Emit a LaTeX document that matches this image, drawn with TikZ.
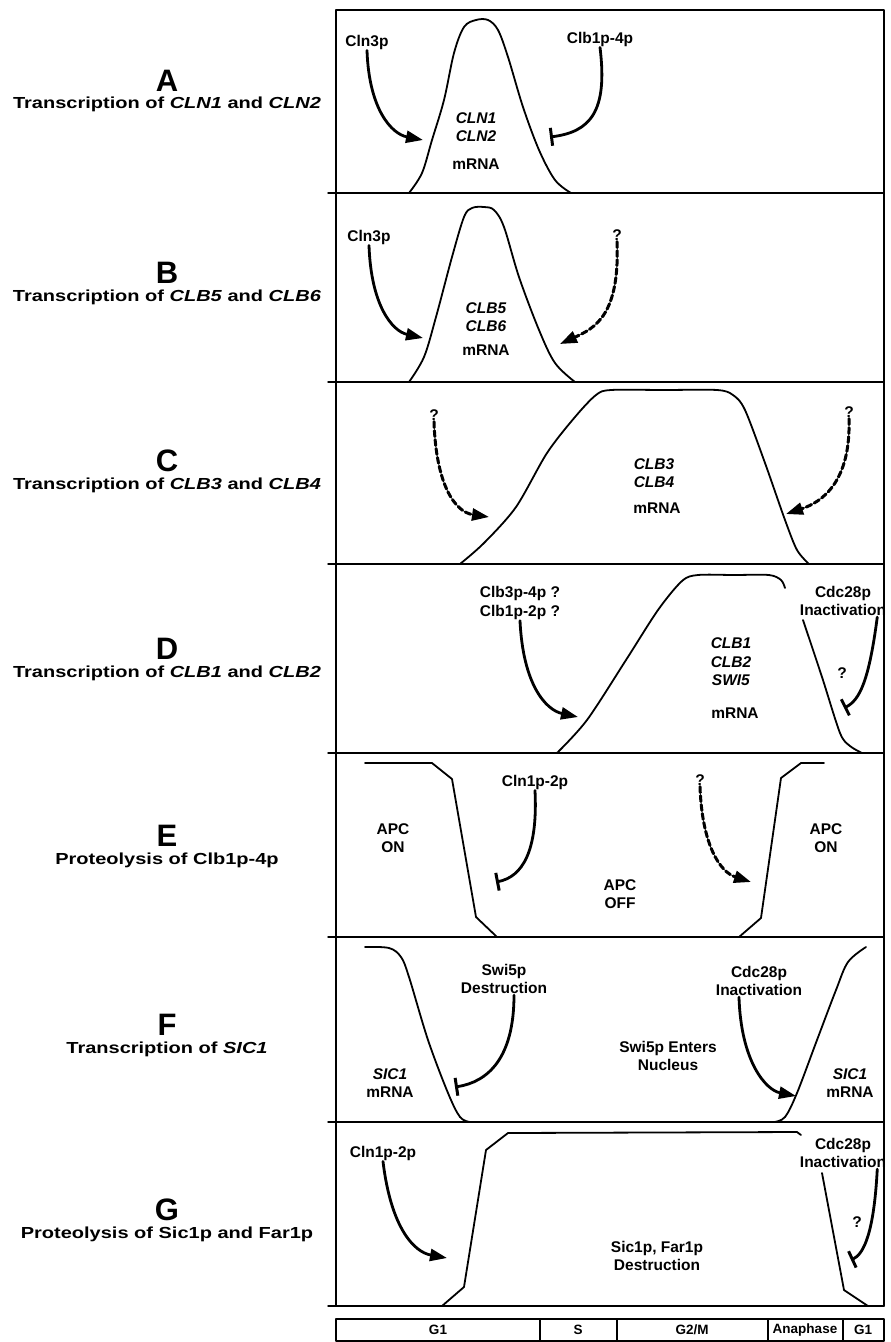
\documentclass[tikz,border=0pt]{standalone}
\usepackage{fontspec}
\setmainfont{Liberation Sans}
\newfontfamily\widefont[FakeStretch=1.25]{Liberation Sans}
\usetikzlibrary{arrows.meta}
\tikzset{lbl/.style={font=\bfseries\fontsize{15.5}{18.5}\selectfont,align=center,inner sep=1pt}}
\tikzset{panel letter/.style={font=\bfseries\fontsize{31}{31}\selectfont,inner sep=0pt}}
\tikzset{panel title/.style={font=\widefont\bfseries\fontsize{16}{19}\selectfont,inner sep=0pt}}
\tikzset{phase/.style={font=\bfseries\fontsize{13.5}{15}\selectfont,inner sep=0pt}}
\tikzset{frame/.style={line width=1.4pt}}
\tikzset{level/.style={line width=1.8pt}}
\tikzset{act/.style={line width=2.8pt,-{Triangle[length=17pt,width=12pt]}}}
\tikzset{inh/.style={line width=2.8pt,-{Bar[width=18pt,line width=3pt]}}}
\tikzset{unknown/.style={act,line width=3pt,dash pattern=on 6pt off 3pt}}
\begin{document}
\begin{tikzpicture}[x=1pt,y=-1pt,line join=round,line cap=round]
\useasboundingbox (0,0) rectangle (891,1342);

\draw[frame] (336,10) rectangle (884,1306);
\foreach \y in {193,382,564,753,937,1122,1306} \draw[frame] (328,\y) -- (884,\y);

\node[panel letter] (letA) at (167,81) {A};
\node[panel title] (titA) at (167,104) {Transcription of \textit{CLN1} and \textit{CLN2}};
\node[panel letter] (letB) at (167,273) {B};
\node[panel title] (titB) at (167,297) {Transcription of \textit{CLB5} and \textit{CLB6}};
\node[panel letter] (letC) at (167,461) {C};
\node[panel title] (titC) at (167,485) {Transcription of \textit{CLB3} and \textit{CLB4}};
\node[panel letter] (letD) at (167,649) {D};
\node[panel title] (titD) at (167,673) {Transcription of \textit{CLB1} and \textit{CLB2}};
\node[panel letter] (letE) at (167,836) {E};
\node[panel title] (titE) at (167,860) {Proteolysis of Clb1p-4p};
\node[panel letter] (letF) at (167,1025) {F};
\node[panel title] (titF) at (167,1049) {Transcription of \textit{SIC1}};
\node[panel letter] (letG) at (167,1210) {G};
\node[panel title] (titG) at (167,1234) {Proteolysis of Sic1p and Far1p};

% A
\draw[level] plot[smooth,tension=0.55] coordinates {(409,193) (422,173) (432,140) (444,100) (454,53) (464,27) (476,20) (488,20) (498,30) (508,57) (523,107) (539,150) (555,180) (571,193)};
\node[lbl] (geneA) at (476,127) {\textit{CLN1}\\\textit{CLN2}};
\node[lbl] (mrnaA) at (476,164) {mRNA};
\node[lbl] (cln3A) at (367,42) {Cln3p};
\node[lbl] (clbA) at (600,39) {Clb1p-4p};
\coordinate (tipA1) at (423,140);
\coordinate (tipA2) at (550,137);
\draw[act] (cln3A.south) .. controls (369,110) and (392,134) .. (tipA1);
\draw[inh] (clbA.south) .. controls (608,112) and (590,132) .. (tipA2);

% B
\draw[level] plot[smooth,tension=0.55] coordinates {(409,382) (424,357) (436,317) (452,257) (464,217) (472,208) (484,207) (494,210) (504,227) (519,277) (539,330) (555,363) (575,382)};
\node[lbl] (geneB) at (486,317) {\textit{CLB5}\\\textit{CLB6}};
\node[lbl] (mrnaB) at (486,350) {mRNA};
\node[lbl] (cln3B) at (369,237) {Cln3p};
\node[lbl] (qB) at (617,235) {?};
\coordinate (tipB1) at (423,338);
\coordinate (tipB2) at (560,344);
\draw[act] (cln3B.south) .. controls (371,305) and (392,331) .. (tipB1);
\draw[unknown] (qB.south) .. controls (620,315) and (595,328) .. (tipB2);

% C
\draw[level] plot[smooth,tension=0.5] coordinates {(460,564) (484,543) (516,507) (547,453) (575,417) (596,395) (611,390) (664,390) (717,390) (733,395) (745,410) (765,463) (785,520) (797,550) (809,564)};
\node[lbl] (geneC) at (654,473) {\textit{CLB3}\\\textit{CLB4}};
\node[lbl] (mrnaC) at (657,508) {mRNA};
\node[lbl] (qC1) at (434,415) {?};
\node[lbl] (qC2) at (849,412) {?};
\coordinate (tipC1) at (489,517);
\coordinate (tipC2) at (786,514);
\draw[unknown] (qC1.south) .. controls (436,485) and (455,512) .. (tipC1);
\draw[unknown] (qC2.south) .. controls (851,482) and (822,502) .. (tipC2);

% D
\draw[level] plot[smooth,tension=0.5] coordinates {(557,753) (587,720) (626,660) (658,610) (682,581) (698,575) (734,575) (769,575) (781,580) (785,588)};
\draw[level] plot[smooth,tension=0.5] coordinates {(803,620) (822,677) (840,733) (850,746) (862,753)};
\node[lbl] (clbD) at (520,603) {Clb3p-4p ?\\Clb1p-2p ?};
\node[lbl] (geneD) at (731,662) {\textit{CLB1}\\\textit{CLB2}\\\textit{SWI5}};
\node[lbl] (mrnaD) at (735,713) {mRNA};
\node[lbl] (cdcD) at (843,601) {Cdc28p\\Inactivation};
\node[lbl] (qD) at (842,673) {?};
\coordinate (tipD1) at (578,717);
\coordinate (tipD2) at (844,708);
\draw[act] (clbD.south) .. controls (523,685) and (546,710) .. (tipD1);
\draw[inh] ([xshift=-10pt]cdcD.south east) .. controls (869,680) and (860,700) .. (tipD2);

% E
\draw[level] (365,763) -- (432,763) -- (452,779) -- (476,917) -- (497,937);
\draw[level] (739,937) -- (761,918) -- (781,778) -- (801,763) -- (824,763);
\node[lbl] (apcE1) at (393,838) {APC\\ON};
\node[lbl] (apcE2) at (620,894) {APC\\OFF};
\node[lbl] (apcE3) at (826,838) {APC\\ON};
\node[lbl] (clnE) at (535,782) {Cln1p-2p};
\node[lbl] (qE) at (700,780) {?};
\coordinate (tipE1) at (496,882);
\coordinate (tipE2) at (751,882);
\draw[inh] (clnE.south) .. controls (538,852) and (522,877) .. (tipE1);
\draw[unknown] (qE.south) .. controls (702,845) and (720,872) .. (tipE2);

% F
\draw[level] plot[smooth,tension=0.55] coordinates {(365,947) (389,948) (401,957) (409,977) (428,1040) (448,1093) (460,1117) (470,1122)};
\draw[level] plot[smooth,tension=0.55] coordinates {(774,1122) (785,1117) (797,1093) (817,1040) (836,990) (848,962) (866,947)};
\node[lbl] (sicF1) at (390,1083) {\textit{SIC1}\\mRNA};
\node[lbl] (sicF2) at (850,1083) {\textit{SIC1}\\mRNA};
\node[lbl] (swiF) at (504,979) {Swi5p\\Destruction};
\node[lbl] (cdcF) at (759,981) {Cdc28p\\Inactivation};
\node[lbl] (nucF) at (668,1056) {Swi5p Enters\\Nucleus};
\coordinate (tipF1) at (455,1087);
\coordinate (tipF2) at (796,1096);
\draw[inh] ([xshift=10pt]swiF.south) .. controls (514,1058) and (488,1082) .. (tipF1);
\draw[act] ([xshift=-20pt]cdcF.south) .. controls (741,1062) and (766,1090) .. (tipF2);

% G
\draw[level] (442,1306) -- (464,1287) -- (486,1150) -- (508,1133) -- (797,1132) -- (801,1135);
\draw[level] (822,1173) -- (844,1290) -- (868,1306);
\node[lbl] (clnG) at (383,1153) {Cln1p-2p};
\node[lbl] (cdcG) at (843,1153) {Cdc28p\\Inactivation};
\node[lbl] (qG) at (857,1222) {?};
\node[lbl] (sicG) at (657,1256) {Sic1p, Far1p\\Destruction};
\coordinate (tipG1) at (447,1258);
\coordinate (tipG2) at (851,1260);
\draw[act] (clnG.south) .. controls (391,1228) and (414,1252) .. (tipG1);
\draw[inh] ([xshift=-10pt]cdcG.south east) .. controls (874,1232) and (864,1254) .. (tipG2);

% phases
\draw[frame] (336,1319) rectangle (884,1341);
\foreach \x in {540,617,768,843} \draw[frame] (\x,1319) -- (\x,1341);
\foreach \x/\p [count=\i] in {438/G1,578/S,692/G2\slash M,805/Anaphase,863/G1}
  \node[phase] (ph\i) at (\x,1330) {\p};
\end{tikzpicture}
\end{document}
